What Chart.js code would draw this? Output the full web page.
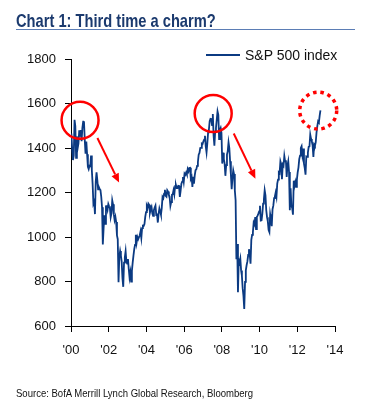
<!DOCTYPE html>
<html lang="en">
<head>
    <meta charset="UTF-8">
    <title>Chart 1: Third time a charm?</title>
    <script src="https://cdn.jsdelivr.net/npm/chart.js"></script>
    <style>
        body {
            margin: 0;
            padding: 0;
            background: #fff;
            font-family: Arial, "Liberation Sans", sans-serif;
        }
        .wrap {
            position: relative;
            width: 370px;
            height: 411px;
        }
        canvas {
            position: absolute;
            left: 0;
            top: 0;
        }
        .title {
            position: absolute;
            left: 16px;
            top: 10.5px;
            font-size: 19px;
            font-weight: bold;
            line-height: 1;
            color: #1b3a6e;
            white-space: nowrap;
            transform-origin: 0 0;
        }
        .rule {
            position: absolute;
            left: 16px;
            top: 29px;
            width: 339px;
            height: 0;
            border-top: 1.5px solid #5b7db5;
        }
        .legend {
            position: absolute;
            left: 206px;
            top: 47.5px;
            font-size: 14px;
            line-height: 1;
            color: #111;
            white-space: nowrap;
        }
        .legend i {
            display: inline-block;
            width: 34px;
            height: 2px;
            background: #0b3a82;
            vertical-align: 4px;
            margin-right: 5px;
        }
        .source {
            position: absolute;
            left: 16px;
            top: 387.8px;
            font-size: 10.5px;
            line-height: 1;
            color: #111;
            white-space: nowrap;
            transform-origin: 0 0;
        }
    </style>
</head>
<body>
    <div class="wrap">
        <canvas id="spxChart" width="370" height="411"></canvas>
        <div class="title" id="title">Chart 1: Third time a charm?</div>
        <div class="rule"></div>
        <div class="legend"><i></i>S&amp;P 500 index</div>
        <div class="source" id="source">Source: BofA Merrill Lynch Global Research, Bloomberg</div>
    </div>

    <script>
        // S&P 500, two readings a month (mid-month, month-end)
        const spx2000 = [1465, 1394, 1346, 1366, 1527, 1499, 1356, 1452, 1400, 1421, 1480, 1455, 1481, 1431, 1491, 1518, 1520, 1437, 1374, 1429, 1372, 1315, 1305, 1320];
        const spx2001 = [1318, 1366, 1301, 1240, 1150, 1160, 1103, 1249, 1291, 1256, 1214, 1224, 1215, 1211, 1181, 1134, 966, 1040, 1097, 1059, 1138, 1139, 1123, 1148];
        const spx2002 = [1138, 1130, 1089, 1106, 1165, 1147, 1102, 1076, 1091, 1067, 1007, 990, 797, 912, 937, 916, 889, 815, 776, 885, 909, 936, 890, 880];
        const spx2003 = [901, 856, 818, 841, 800, 848, 885, 916, 945, 964, 1010, 975, 1000, 990, 990, 1008, 1025, 996, 1040, 1051, 1050, 1058, 1090, 1112];
        const spx2004 = [1140, 1131, 1150, 1145, 1110, 1126, 1135, 1107, 1095, 1121, 1132, 1141, 1100, 1101, 1065, 1104, 1128, 1115, 1100, 1130, 1180, 1174, 1195, 1212];
        const spx2005 = [1185, 1181, 1210, 1204, 1190, 1181, 1140, 1157, 1190, 1192, 1210, 1191, 1228, 1234, 1220, 1220, 1230, 1229, 1180, 1207, 1240, 1249, 1270, 1248];
        const spx2006 = [1285, 1280, 1290, 1281, 1305, 1295, 1310, 1311, 1262, 1270, 1225, 1270, 1240, 1277, 1300, 1304, 1320, 1336, 1370, 1378, 1400, 1401, 1420, 1418];
        const spx2007 = [1430, 1438, 1455, 1407, 1380, 1421, 1470, 1482, 1520, 1531, 1530, 1503, 1553, 1455, 1410, 1474, 1490, 1527, 1565, 1549, 1440, 1481, 1490, 1468];
        const spx2008 = [1330, 1379, 1350, 1331, 1275, 1323, 1370, 1386, 1425, 1400, 1340, 1280, 1215, 1267, 1300, 1283, 1210, 1165, 900, 969, 752, 896, 885, 903];
        const spx2009 = [850, 826, 770, 735, 677, 798, 850, 873, 890, 919, 945, 919, 880, 987, 1010, 1021, 1065, 1057, 1090, 1036, 1090, 1096, 1105, 1115];
        const spx2010 = [1140, 1074, 1075, 1104, 1150, 1169, 1210, 1187, 1120, 1089, 1070, 1031, 1022, 1102, 1080, 1049, 1125, 1141, 1175, 1183, 1200, 1181, 1240, 1258];
        const spx2011 = [1290, 1286, 1340, 1327, 1260, 1326, 1320, 1364, 1340, 1345, 1270, 1321, 1340, 1292, 1120, 1219, 1140, 1131, 1100, 1253, 1230, 1247, 1225, 1258];
        const spx2012 = [1290, 1312, 1350, 1366, 1400, 1408, 1370, 1398, 1330, 1310, 1280, 1362, 1360, 1379, 1405, 1407, 1460, 1441, 1430, 1412, 1360, 1416, 1410, 1426];
        const spx2013 = [1470, 1498, 1520, 1515, 1545, 1569];

        const spxYears = [spx2000, spx2001, spx2002, spx2003, spx2004, spx2005, spx2006,
                          spx2007, spx2008, spx2009, spx2010, spx2011, spx2012, spx2013];

        const yTicks = [600, 800, 1000, 1200, 1400, 1600, 1800];
        const xTickLabels = ["'00", "'02", "'04", "'06", "'08", "'10", "'12", "'14"];

        // annotations, in data units (years since 2000, index level)
        const circles = [
            { x: 0.48, y: 1525, dotted: false },
            { x: 7.54, y: 1555, dotted: false },
            { x: 13.11, y: 1568, dotted: true },
        ];
        const arrows = [
            { x0: 1.40, y0: 1445, x1: 2.55, y1: 1245 },
            { x0: 8.63, y0: 1465, x1: 9.78, y1: 1262 },
        ];

        // squeeze the narrow-font texts to the width they have in the original
        function fitWidth(id, w) {
            const el = document.getElementById(id);
            el.style.transform = 'scaleX(' + (w / el.offsetWidth) + ')';
        }
        fitWidth('title', 200);
        fitWidth('source', 237);

        const points = [];
        spxYears.forEach((vals, yi) => {
            vals.forEach((v, i) => points.push({ x: yi + (i + 0.5) / 24, y: v }));
        });

        const annotate = {
            id: 'annotate',
            afterDatasetsDraw(chart) {
                const { ctx, scales: { x, y } } = chart;
                ctx.save();
                ctx.strokeStyle = '#ff0000';
                ctx.fillStyle = '#ff0000';
                circles.forEach((c) => {
                    ctx.beginPath();
                    ctx.lineWidth = c.dotted ? 3.5 : 2.5;
                    ctx.setLineDash(c.dotted ? [3.5, 3.9] : []);
                    ctx.arc(x.getPixelForValue(c.x), y.getPixelForValue(c.y), 18.5, 0, Math.PI * 2);
                    ctx.stroke();
                });
                ctx.setLineDash([]);
                arrows.forEach((a) => {
                    const px0 = x.getPixelForValue(a.x0), py0 = y.getPixelForValue(a.y0);
                    const px1 = x.getPixelForValue(a.x1), py1 = y.getPixelForValue(a.y1);
                    const ang = Math.atan2(py1 - py0, px1 - px0);
                    const head = 9, half = 4;
                    const bx = px1 - head * Math.cos(ang), by = py1 - head * Math.sin(ang);
                    ctx.lineWidth = 2;
                    ctx.beginPath();
                    ctx.moveTo(px0, py0);
                    ctx.lineTo(bx, by);
                    ctx.stroke();
                    ctx.beginPath();
                    ctx.moveTo(px1, py1);
                    ctx.lineTo(bx + half * Math.sin(ang), by - half * Math.cos(ang));
                    ctx.lineTo(bx - half * Math.sin(ang), by + half * Math.cos(ang));
                    ctx.closePath();
                    ctx.fill();
                });
                ctx.restore();
            },
        };

        const tickFont = { family: 'Arial, "Liberation Sans", sans-serif', size: 13 };

        new Chart(document.getElementById('spxChart'), {
            type: 'line',
            data: {
                datasets: [{
                    label: 'S&P 500 index',
                    data: points,
                    borderColor: '#0b3a82',
                    borderWidth: 1.8,
                    pointRadius: 0,
                    tension: 0,
                }],
            },
            options: {
                responsive: false,
                animation: false,
                layout: { padding: { left: 0, right: 35, top: 59, bottom: 0 } },
                plugins: { legend: { display: false }, tooltip: { enabled: false } },
                scales: {
                    x: {
                        type: 'linear',
                        min: 0,
                        max: 14,
                        afterFit: (s) => { s.height = 85; },
                        afterBuildTicks: (s) => { s.ticks = xTickLabels.map((_, i) => ({ value: i * 2 })); },
                        ticks: {
                            color: '#111',
                            font: tickFont,
                            padding: 11,
                            maxRotation: 0,
                            callback: (v) => xTickLabels[v / 2],
                        },
                        grid: { drawOnChartArea: false, drawTicks: true, tickLength: 6, color: '#000' },
                        border: { display: true, color: '#000', width: 1 },
                    },
                    y: {
                        min: 600,
                        max: 1800,
                        afterFit: (s) => { s.width = 71; },
                        afterBuildTicks: (s) => { s.ticks = yTicks.map((v) => ({ value: v })); },
                        ticks: {
                            color: '#111',
                            font: tickFont,
                            padding: 9,
                            callback: (v) => String(v),
                        },
                        grid: { drawOnChartArea: false, drawTicks: true, tickLength: 6, color: '#000' },
                        border: { display: true, color: '#000', width: 1 },
                    },
                },
            },
            plugins: [annotate],
        });
    </script>
</body>
</html>
